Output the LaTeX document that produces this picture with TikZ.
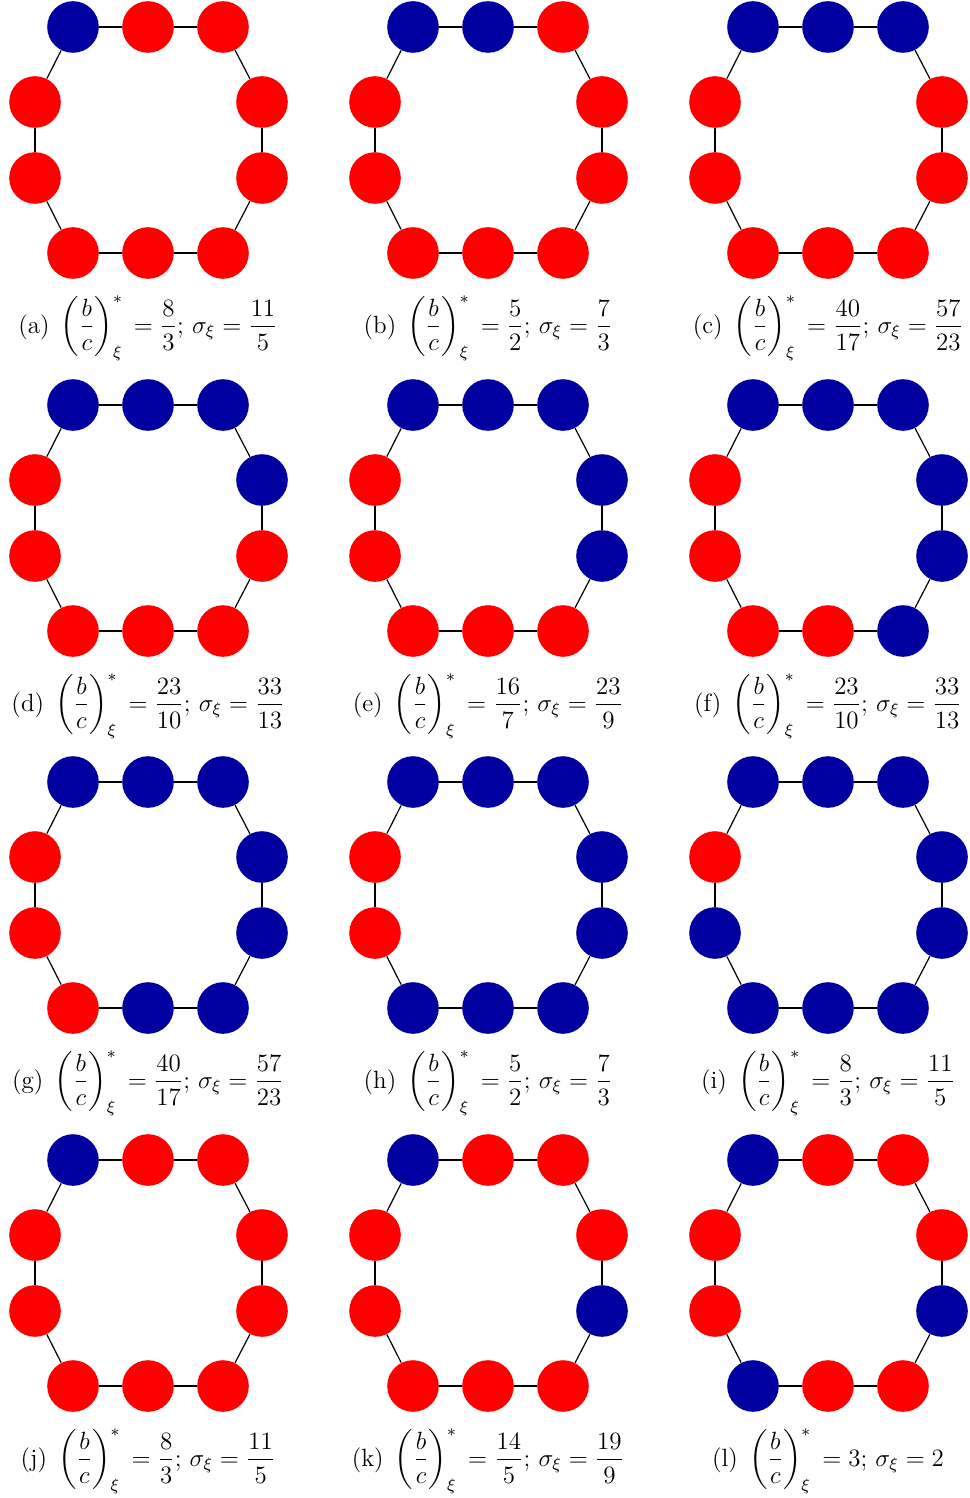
\documentclass[tikz,border=0pt]{standalone}
\usepackage{amsmath}
\usepackage{graphicx}
\definecolor{myblue}{RGB}{0,0,160}
\definecolor{myred}{RGB}{255,0,0}
\tikzset{
  dot/.style={circle, minimum size=25.8pt, inner sep=0pt, draw=none},
  B/.style={dot, fill=myblue},
  R/.style={dot, fill=myred},
  ringedge/.style={line width=0.6pt, draw=black},
  captext/.style={anchor=base, inner sep=0pt, font=\fontsize{12}{14.5}\selectfont},
}
\newcommand\bcstar{\left(\dfrac{b}{c}\right)^{*}_{\xi}\,}
\newcommand\sublabel[1]{(#1)\hspace{0.45em}}
\newcommand\drawpanel[5]{%
  \begin{scope}[shift={(#2,#3)}]
    \foreach \s [count=\i] in {#4}{
      \pgfmathsetmacro\px{{73,148,223,262,262,223,148,73,35,35}[\i-1]}
      \pgfmathsetmacro\py{{27,27,27,102,178,253,253,253,178,102}[\i-1]}
      \node[\s] (#1\i) at (\px,\py) {};
    }
    \foreach \i in {1,...,10}{
      \pgfmathtruncatemacro\j{mod(\i,10)+1}
      \draw[ringedge] (#1\i) -- (#1\j);
    }
    \node[captext] (#1cap) at (148,333) {\scalebox{1.04}{#5}};
  \end{scope}
}
\begin{document}
\begin{tikzpicture}[x=0.5pt,y=-0.5pt]
\useasboundingbox (0,0) rectangle (969,1498);
\drawpanel{a}{0}{0}{B,R,R,R,R,R,R,R,R,R}{\sublabel{a}$\displaystyle\bcstar=\frac{8}{3}$; $\displaystyle\sigma_\xi=\frac{11}{5}$}
\drawpanel{b}{340}{0}{B,B,R,R,R,R,R,R,R,R}{\sublabel{b}$\displaystyle\bcstar=\frac{5}{2}$; $\displaystyle\sigma_\xi=\frac{7}{3}$}
\drawpanel{c}{680}{0}{B,B,B,R,R,R,R,R,R,R}{\sublabel{c}$\displaystyle\bcstar=\frac{40}{17}$; $\displaystyle\sigma_\xi=\frac{57}{23}$}
\drawpanel{d}{0}{378}{B,B,B,B,R,R,R,R,R,R}{\sublabel{d}$\displaystyle\bcstar=\frac{23}{10}$; $\displaystyle\sigma_\xi=\frac{33}{13}$}
\drawpanel{e}{340}{378}{B,B,B,B,B,R,R,R,R,R}{\sublabel{e}$\displaystyle\bcstar=\frac{16}{7}$; $\displaystyle\sigma_\xi=\frac{23}{9}$}
\drawpanel{f}{680}{378}{B,B,B,B,B,B,R,R,R,R}{\sublabel{f}$\displaystyle\bcstar=\frac{23}{10}$; $\displaystyle\sigma_\xi=\frac{33}{13}$}
\drawpanel{g}{0}{755}{B,B,B,B,B,B,B,R,R,R}{\sublabel{g}$\displaystyle\bcstar=\frac{40}{17}$; $\displaystyle\sigma_\xi=\frac{57}{23}$}
\drawpanel{h}{340}{755}{B,B,B,B,B,B,B,B,R,R}{\sublabel{h}$\displaystyle\bcstar=\frac{5}{2}$; $\displaystyle\sigma_\xi=\frac{7}{3}$}
\drawpanel{i}{680}{755}{B,B,B,B,B,B,B,B,B,R}{\sublabel{i}$\displaystyle\bcstar=\frac{8}{3}$; $\displaystyle\sigma_\xi=\frac{11}{5}$}
\drawpanel{j}{0}{1133}{B,R,R,R,R,R,R,R,R,R}{\sublabel{j}$\displaystyle\bcstar=\frac{8}{3}$; $\displaystyle\sigma_\xi=\frac{11}{5}$}
\drawpanel{k}{340}{1133}{B,R,R,R,B,R,R,R,R,R}{\sublabel{k}$\displaystyle\bcstar=\frac{14}{5}$; $\displaystyle\sigma_\xi=\frac{19}{9}$}
\drawpanel{l}{680}{1133}{B,R,R,R,B,R,R,B,R,R}{\sublabel{l}$\displaystyle\bcstar=3$; $\displaystyle\sigma_\xi=2$}
\end{tikzpicture}
\end{document}
